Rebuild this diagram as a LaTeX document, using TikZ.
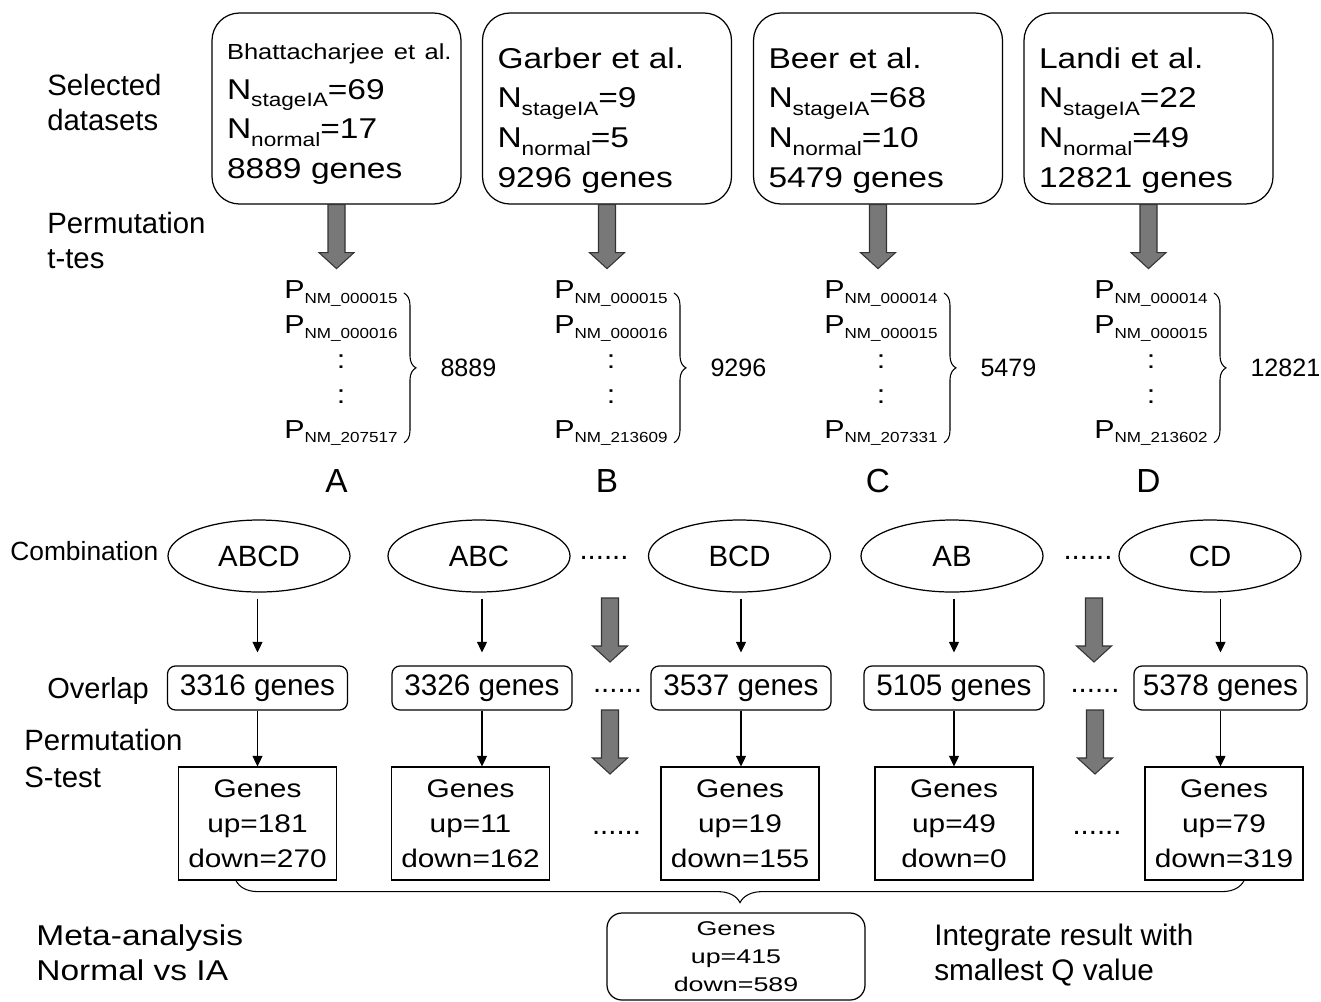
\documentclass[tikz,border=0pt]{standalone}
\usepackage{fontspec}
\setmainfont{Liberation Sans}
\newfontfamily\widefont{Liberation Sans}[FakeStretch=1.17]
\newfontfamily\widerfont{Liberation Sans}[FakeStretch=1.35]
\usetikzlibrary{positioning,shapes.geometric,arrows.meta,decorations.pathreplacing}
\definecolor{arrowgray}{RGB}{120,120,120}
\newcommand\dsub[1]{\raisebox{-4.3pt}{\fontsize{11}{12}\selectfont #1}}
\newcommand\psub[1]{P\raisebox{-2.8pt}{\fontsize{8.3}{9}\selectfont NM\_#1}}
\tikzset{
  lbl/.style={anchor=base west, align=left, inner sep=0pt, font=\fontsize{16.7}{19.8}\selectfont},
  dset/.style={draw, line width=0.7pt, rounded corners=5.5mm, minimum width=49.8mm, minimum height=38.2mm,
    text width=43.8mm, inner xsep=3mm, inner ysep=0pt, align=left, font=\widefont\fontsize{16.3}{22.7}\selectfont},
  plist/.style={anchor=base west, align=center, inner sep=0pt, font=\widefont\fontsize{14.8}{19.8}\selectfont},
  count/.style={inner sep=0pt, font=\fontsize{14.3}{16}\selectfont},
  letter/.style={anchor=base, inner sep=0pt, font=\fontsize{19}{22}\selectfont},
  combo/.style={draw, ellipse, line width=0.7pt, minimum width=36.4mm, minimum height=14.4mm, inner sep=0pt,
    font=\fontsize{16.7}{20}\selectfont},
  ovl/.style={draw, rounded corners=1.6mm, line width=0.7pt, minimum width=36mm, minimum height=8.8mm, inner sep=0pt,
    font=\fontsize{16.9}{20}\selectfont},
  genes/.style={draw, line width=0.7pt, minimum width=31.6mm, minimum height=22.6mm, inner sep=0pt, align=center,
    font=\widefont\fontsize{14.5}{19.8}\selectfont},
  fin/.style={draw, rounded corners=3mm, line width=0.7pt, minimum width=51.6mm, minimum height=17.4mm, inner sep=0pt,
    align=center, font=\widerfont\fontsize{11.3}{15.9}\selectfont},
  dots/.style={anchor=base, inner sep=0pt, font=\fontsize{16.7}{20}\selectfont},
  tarrow/.style={-{Triangle[length=2.1mm,width=2mm]}, line width=0.6pt},
  curly/.style={decorate, decoration={brace, amplitude=#1}, line width=0.6pt},
  fatarrow/.pic={\draw[line width=0.6pt, draw=black!80, fill=arrowgray]
    (-8.5,0) -- (-8.5,48) -- (-17.5,48) -- (0,64) -- (17.5,48) -- (8.5,48) -- (8.5,0) -- cycle;}
}
\begin{document}
\begin{tikzpicture}[x=0.2mm,y=-0.2mm]
\useasboundingbox (0,0) rectangle (1321,1001);
% row labels (placed at the baseline of their last line)
\node[lbl] (l1) at (47,130) {Selected\\datasets};
\node[lbl] (l2) at (47,268) {Permutation\\t-tes};
\node[lbl, font=\fontsize{15}{18}\selectfont] (l3) at (10,560) {Combination};
\node[lbl, font=\fontsize{16.5}{19.8}\selectfont] (l4) at (47,698) {Overlap};
\node[lbl, font=\fontsize{16.7}{21}\selectfont] (l5) at (24,787) {Permutation\\S-test};
\node[lbl, font=\widefont\fontsize{16.3}{19.8}\selectfont] (l6) at (36,980) {Meta-analysis\\Normal vs IA};
\node[lbl, font=\fontsize{16.9}{19.8}\selectfont] (l7) at (934,980) {Integrate result with\\smallest Q value};
% datasets
\node[dset] (dA) at (336.5,108.5) {\rule{0pt}{15.3pt}\mbox{\fontsize{12.4}{22.7}\selectfont Bhattacharjee et al.}\\N\dsub{stageIA}=69\\N\dsub{normal}=17\\8889 genes};
\node[dset] (dB) at (607,108.5) {\rule{0pt}{25.5pt}Garber et al.\\N\dsub{stageIA}=9\\N\dsub{normal}=5\\9296 genes};
\node[dset] (dC) at (878,108.5) {\rule{0pt}{25.5pt}Beer et al.\\N\dsub{stageIA}=68\\N\dsub{normal}=10\\5479 genes};
\node[dset] (dD) at (1148.5,108.5) {\rule{0pt}{25.5pt}Landi et al.\\N\dsub{stageIA}=22\\N\dsub{normal}=49\\12821 genes};
\pic at (dA.south) {fatarrow};
\pic at (dB.south) {fatarrow};
\pic at (dC.south) {fatarrow};
\pic at (dD.south) {fatarrow};
% p-value lists (placed at the baseline of their last line)
\node[plist] (pA) at (284,438) {\psub{000015}\\\psub{000016}\\:\\:\\\psub{207517}};
\node[plist] (pB) at (554,438) {\psub{000015}\\\psub{000016}\\:\\:\\\psub{213609}};
\node[plist] (pC) at (824,438) {\psub{000014}\\\psub{000015}\\:\\:\\\psub{207331}};
\node[plist] (pD) at (1094,438) {\psub{000014}\\\psub{000015}\\:\\:\\\psub{213602}};
\draw[curly=2.4mm] ([xshift=1.2mm,yshift=-2.5mm]pA.north east) -- node[count, right=7.2mm] (nA) {8889} ([xshift=1.2mm,yshift=0.7mm]pA.south east);
\draw[curly=2.4mm] ([xshift=1.2mm,yshift=-2.5mm]pB.north east) -- node[count, right=7.2mm] (nB) {9296} ([xshift=1.2mm,yshift=0.7mm]pB.south east);
\draw[curly=2.4mm] ([xshift=1.2mm,yshift=-2.5mm]pC.north east) -- node[count, right=7.2mm] (nC) {5479} ([xshift=1.2mm,yshift=0.7mm]pC.south east);
\draw[curly=2.4mm] ([xshift=1.2mm,yshift=-2.5mm]pD.north east) -- node[count, right=7.2mm] (nD) {12821} ([xshift=1.2mm,yshift=0.7mm]pD.south east);
\node[letter] (A) at (336.5,492) {A};
\node[letter] (B) at (607,492) {B};
\node[letter] (C) at (878,492) {C};
\node[letter] (D) at (1148.5,492) {D};
% combinations
\node[combo] (e1) at (259,556) {ABCD};
\node[combo] (e2) at (479,556) {ABC};
\node[combo] (e3) at (739.5,556) {BCD};
\node[combo] (e4) at (952,556) {AB};
\node[combo] (e5) at (1210,556) {CD};
\node[dots] (dt1) at (604,559) {......};
\node[dots] (dt2) at (1088,559) {......};
% overlaps
\node[ovl] (o1) at (257.5,688) {3316 genes};
\node[ovl] (o2) at (482,688) {3326 genes};
\node[ovl] (o3) at (741,688) {3537 genes};
\node[ovl] (o4) at (954,688) {5105 genes};
\node[ovl, minimum width=34.6mm] (o5) at (1220.5,688) {5378 genes};
\node[dots] (dt3) at (617.5,692) {......};
\node[dots] (dt4) at (1095,692) {......};
\draw[tarrow, shorten <=1.2mm, shorten >=2.6mm] (o1.north |- e1.south) -- (o1.north);
\draw[tarrow, shorten <=1.2mm, shorten >=2.6mm] (o2.north |- e2.south) -- (o2.north);
\draw[tarrow, shorten <=1.2mm, shorten >=2.6mm] (o3.north |- e3.south) -- (o3.north);
\draw[tarrow, shorten <=1.2mm, shorten >=2.6mm] (o4.north |- e4.south) -- (o4.north);
\draw[tarrow, shorten <=1.2mm, shorten >=2.6mm] (o5.north |- e5.south) -- (o5.north);
\pic at (610,598) {fatarrow};
\pic at (1094,598) {fatarrow};
% S-test results
\node[genes] (g1) at (257.5,823.5) {Genes\\up=181\\down=270};
\node[genes] (g2) at (470.5,823.5) {Genes\\up=11\\down=162};
\node[genes] (g3) at (740,823.5) {Genes\\up=19\\down=155};
\node[genes] (g4) at (954,823.5) {Genes\\up=49\\down=0};
\node[genes] (g5) at (1224,823.5) {Genes\\up=79\\down=319};
\node[dots] (dt5) at (616.5,834) {......};
\node[dots] (dt6) at (1097,834) {......};
\draw[tarrow] (o1.south) -- (o1.south |- g1.north);
\draw[tarrow] (o2.south) -- (o2.south |- g2.north);
\draw[tarrow] (o3.south) -- (o3.south |- g3.north);
\draw[tarrow] (o4.south) -- (o4.south |- g4.north);
\draw[tarrow] (o5.south) -- (o5.south |- g5.north);
\pic at (610,710) {fatarrow};
\pic at (1095,710) {fatarrow};
% meta-analysis
\draw[curly=4.4mm] ([xshift=4mm]g5.south) -- ([xshift=-4.3mm]g1.south);
\node[fin] (res) at (736,956.5) {Genes\\up=415\\down=589};
\end{tikzpicture}
\end{document}
